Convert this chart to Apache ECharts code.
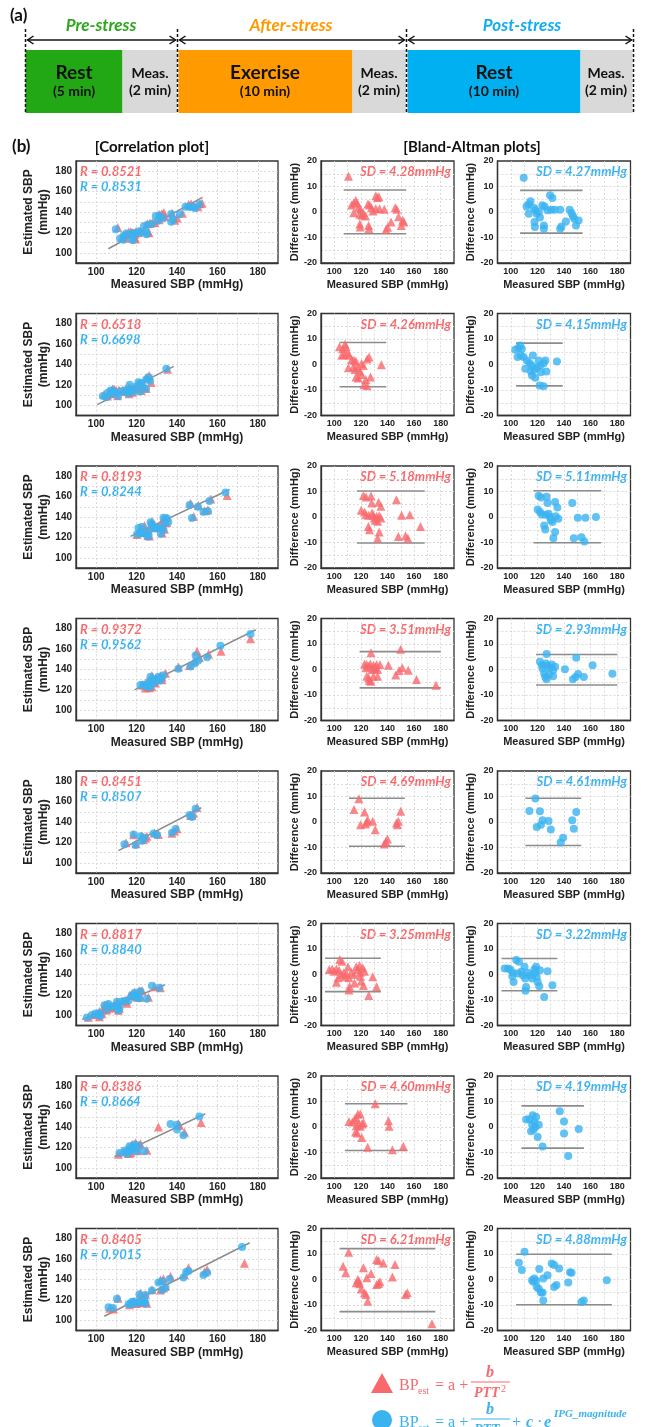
<!DOCTYPE html>
<html><head><meta charset="utf-8">
<script src="https://cdn.jsdelivr.net/npm/echarts@6/dist/echarts.min.js"></script>
<style>html,body{margin:0;padding:0;background:#fff}#c{width:645px;height:1427px}</style>
</head><body><div id="c"></div><script>
// ---------- DATA ----------
const rRed  = ['0.8521','0.6518','0.8193','0.9372','0.8451','0.8817','0.8386','0.8405'];
const rBlue = ['0.8531','0.6698','0.8244','0.9562','0.8507','0.8840','0.8664','0.9015'];
const sdRed  = ['4.28','4.26','5.18','3.51','4.69','3.25','4.60','6.21'];
const sdBlue = ['4.27','4.15','5.11','2.93','4.61','3.22','4.19','4.88'];
// limits of agreement [upper, lower]
const loaRed  = [[8.6,-8.5],[8.6,-8.7],[10.2,-10.2],[7.0,-7.2],[9.3,-9.5],[6.4,-6.7],[9.1,-9.2],[12.1,-12.6]];
const loaBlue = [[8.5,-8.3],[8.4,-8.4],[10.3,-10.1],[5.9,-6.1],[9.3,-9.2],[6.3,-6.4],[8.3,-8.3],[9.9,-9.9]];
// x-extent of the limit lines
const loaXRange = [[107,154],[104,139],[117,168],[119,180],[111,153],[93,135],[108,155],[104,176]];
// regression line endpoints in correlation plots
const fitLines = [[[106,104],[152.6,154.3]],[[100.5,100.6],[138.4,138.2]],[[117,121],[166,167]],[[119,120],[179,179]],
                  [[111,112],[152,154]],[[93,96],[134,130]],[[109,111],[154,153]],[[104,104],[176,176]]];
// Bland-Altman points: [measured SBP, difference]
const row1Red = [[110.7,14.0],[113.0,2.7],[114.6,3.5],[116.1,4.5],[117.1,3.5],[114.6,-0.3],[118.1,1.7],[119.7,1.1],[119.2,-0.9],[120.9,-1.3],[121.7,-0.3],[119.2,-4.7],[119.4,-5.9],[123.5,-1.6],[125.3,3.1],[126.6,2.7],[125.8,-5.3],[126.1,-6.5],[127.9,1.7],[129.1,0.4],[131.2,1.3],[131.2,6.4],[132.5,5.7],[133.5,6.0],[134.0,1.3],[137.6,1.1],[138.9,-6.9],[140.1,-6.0],[142.7,-3.9],[145.8,1.7],[147.0,1.1],[148.3,-1.9],[150.4,-5.3],[151.4,-3.2],[152.4,-3.9]];
const row1Blue = [[109.7,13.4],[111.8,2.2],[113.5,3.0],[114.8,4.2],[113.5,-0.7],[117.3,1.7],[118.6,0.7],[119.4,-0.7],[117.8,-3.9],[118.1,-5.9],[121.1,0],[121.9,-2.2],[123.7,2.6],[125.4,2.2],[124.9,-5.3],[124.9,-6.6],[127.5,0.7],[129.5,6.6],[131.3,5.5],[130.5,0.9],[133.0,0.9],[137.1,0.9],[137.1,-6.6],[138.1,-5.7],[141.4,-3.7],[144.2,0.9],[145.7,-0.4],[146.7,-1.7],[147.7,-2.6],[149.0,-5.3],[151.0,-3.3]];
const row2Red = [[103.9,7.0],[106.4,6.2],[108.1,7.9],[108.9,7.0],[105.6,3.6],[107.4,3.9],[109.9,4.6],[111.3,3.6],[113.1,2.0],[114.8,1.7],[110.6,-1.3],[114.4,-0.9],[116.3,1.3],[115.6,-2.0],[116.3,-4.9],[118.0,-5.3],[117.3,-1.3],[119.3,-2.6],[120.5,0.4],[121.8,-0.4],[120.5,-3.9],[123.7,-5.9],[124.7,2.2],[126.2,2.9],[127.2,-4.9],[122.3,-7.9],[124.7,-8.3],[135.4,-0.1]];
const row2Blue = [[103.3,5.8],[105.8,6.5],[107.1,7.5],[108.3,6.1],[105.1,2.9],[107.6,3.5],[109.6,2.9],[110.9,-1.7],[112.1,1.6],[114.1,0.5],[115.9,-0.4],[116.6,3.5],[115.1,-2.6],[115.9,-4.3],[118.4,-5.2],[117.6,-2.1],[119.6,-1.3],[120.9,1.6],[122.2,-0.4],[122.7,-3.0],[124.7,0.5],[126.0,1.6],[126.7,-2.7],[121.7,-8.2],[124.7,-8.5],[134.7,1.2]];
const row3Red = [[121.9,8.4],[123.9,7.8],[127.6,8.2],[128.1,5.5],[120.2,2.6],[122.7,2.0],[123.9,0.9],[125.9,0.7],[128.4,1.6],[129.4,0.7],[130.1,-0.4],[130.8,-1.3],[131.8,0.3],[132.6,-1.7],[133.8,0.5],[135.0,-0.4],[133.3,5.8],[135.0,4.2],[125.6,-3.7],[126.4,-5.0],[133.8,-5.9],[132.6,-8.3],[146.7,6.8],[148.2,-7.6],[150.6,0.7],[153.6,-7.4],[155.3,-8.3],[156.8,0.9],[164.8,-3.7]];
const row3Blue = [[120.9,8.3],[122.7,7.6],[126.9,7.9],[127.6,5.5],[120.2,2.9],[122.0,2.0],[123.4,0.9],[126.4,0.9],[128.4,1.3],[129.4,0],[130.1,-1.3],[131.3,-2.0],[133.3,5.9],[135.0,3.7],[133.8,0.3],[135.7,-0.7],[125.1,-3.3],[125.9,-4.9],[133.3,-5.9],[132.0,-8.3],[146.2,5.5],[147.4,-8.3],[150.4,-0.3],[153.1,-7.9],[155.3,-9.6],[156.1,-0.3],[164.0,0]];
const row4Red = [[127.6,6.6],[149.9,7.9],[122.7,2.2],[123.9,0.7],[124.4,2.0],[125.9,1.3],[127.1,2.2],[128.4,0],[129.4,1.7],[130.1,0.4],[130.8,0.9],[131.8,2.0],[132.6,0],[134.3,2.0],[124.4,-2.6],[125.9,-3.3],[126.4,-4.3],[127.6,-4.6],[129.4,-2.6],[132.6,-2.6],[140.7,1.7],[146.2,-2.2],[148.7,-0.4],[151.1,0.7],[155.6,-0.3],[161.8,-3.9],[176.4,-6.2]];
const row4Blue = [[126.9,6.1],[149.2,4.6],[121.9,3.0],[123.4,1.7],[123.9,0.4],[126.4,2.4],[127.6,1.4],[129.4,0.7],[130.8,2.0],[131.8,-0.3],[133.3,1.1],[125.1,-1.6],[125.9,-2.9],[126.9,-3.8],[128.9,-2.0],[131.8,-2.6],[140.7,0.1],[146.7,-3.8],[148.7,-2.9],[150.6,-1.8],[154.9,-2.9],[161.5,1.7],[176.4,-1.7]];
const row5Red = [[118.5,9.1],[114.8,4.9],[122.7,3.9],[119.7,-1.1],[123.4,-0.8],[125.1,0.9],[124.4,0],[128.9,0.3],[130.8,-3.0],[140.0,-6.7],[138.8,-7.6],[137.5,-8.6],[146.7,-0.4],[148.2,0.3],[147.4,-1.1],[149.9,4.2]];
const row5Blue = [[118.5,9.2],[114.0,4.3],[121.9,4.2],[119.5,-2.0],[122.7,-1.1],[123.9,0.7],[128.4,0.4],[130.1,-2.9],[139.3,-6.2],[137.5,-8.0],[146.2,0.7],[147.4,-2.6],[149.2,3.9]];
const row6Red = [[96.2,2.0],[98.4,2.2],[99.9,1.3],[101.6,2.2],[103.6,1.7],[104.1,5.9],[105.8,5.2],[102.9,-1.3],[101.6,-3.0],[105.3,0],[107.1,0.7],[107.8,-0.9],[109.1,0.3],[110.3,3.0],[111.0,-1.3],[111.5,-4.6],[111.0,-6.1],[112.8,0.9],[114.8,0],[115.2,-3.3],[116.5,3.0],[117.7,2.0],[119.0,3.5],[119.5,0.9],[119.7,-0.7],[120.2,-2.6],[121.4,2.6],[122.7,1.3],[121.9,-4.3],[125.9,-8.2],[128.9,-0.9],[131.8,-4.8]];
const row6Blue = [[95.4,2.4],[97.9,2.4],[99.7,2.0],[101.6,0.7],[104.1,5.7],[106.1,5.0],[101.1,-0.7],[102.1,-2.9],[105.3,0.4],[107.8,1.1],[109.1,-0.3],[110.3,3.0],[110.8,-1.6],[111.5,-4.9],[111.0,-6.4],[112.8,0.7],[114.5,-0.3],[116.0,-1.6],[117.7,2.0],[119.0,3.0],[118.5,0.7],[119.5,-0.9],[120.2,-2.9],[121.9,1.7],[121.4,-4.6],[125.1,-8.8],[127.6,1.3],[131.3,-4.2]];
const row7Red = [[130.8,9.1],[111.0,2.2],[113.5,2.0],[115.2,2.9],[116.5,3.6],[117.7,5.1],[119.5,5.1],[118.5,1.2],[116.5,0.5],[119.5,0.3],[121.0,1.2],[121.9,1.8],[116.0,-2.0],[117.2,-2.4],[120.7,-4.1],[125.1,-7.9],[140.7,2.5],[141.2,0.3],[143.7,-8.9],[151.9,-7.5]];
const row7Blue = [[136.8,6.2],[111.5,2.9],[114.0,3.0],[116.5,4.6],[119.0,3.9],[117.7,2.0],[116.0,0.9],[118.5,0],[121.0,0.9],[115.2,-1.7],[117.0,-1.1],[120.2,-3.9],[123.9,-7.6],[140.0,2.2],[140.0,-2.5],[151.1,-0.8],[143.2,-11.4]];
const row8Red = [[110.8,10.7],[106.6,5.2],[108.6,2.6],[121.9,4.6],[131.8,7.8],[133.3,7.5],[136.8,6.5],[145.7,5.9],[127.6,2.4],[124.4,0.7],[143.7,1.0],[117.7,0],[118.5,-0.7],[116.5,-1.3],[119.0,-1.7],[133.3,-1.6],[134.3,-0.9],[131.8,-2.0],[120.2,-3.7],[122.7,-5.2],[123.9,-5.9],[125.1,-8.5],[153.6,-5.9],[154.9,-5.2],[173.4,-17.4]];
const row8Blue = [[110.3,10.9],[106.1,6.6],[108.3,3.7],[121.4,4.1],[130.8,6.3],[132.6,5.7],[136.3,4.3],[144.5,2.8],[145.7,2.6],[127.6,1.7],[124.4,0.4],[116.0,-0.3],[117.7,0.4],[119.0,-0.5],[117.0,-0.9],[132.6,-2.9],[134.3,-2.2],[143.2,-1.2],[119.5,-2.9],[121.0,-3.6],[122.7,-5.1],[123.9,-5.1],[124.4,-8.2],[153.1,-8.8],[154.9,-8.2],[172.2,-0.3]];
const redRows  = [row1Red,row2Red,row3Red,row4Red,row5Red,row6Red,row7Red,row8Red];
const blueRows = [row1Blue,row2Blue,row3Blue,row4Blue,row5Blue,row6Blue,row7Blue,row8Blue];
const xTicks = [100,120,140,160,180];
const corrYTicks = [100,120,140,160,180];

// ---------- STYLE / LAYOUT ----------
const RED='#F7696D', BLUE='#3AB3F0', GRAYLINE='#8c8c8c';
const ROW0=161, PITCH=152.5, H=102;
const AX='Liberation Sans';
const grids=[], xAxes=[], yAxes=[], series=[], els=[];

function splitStyle(){return {show:true, showMinLine:false, showMaxLine:false, lineStyle:{color:'#d2d2d2', type:[2,2], width:0.8}};}
function addPanel(left,width,top,kind){
  const g = grids.length;
  grids.push({left:left, top:top, width:width, height:H, show:true, borderColor:'#333', borderWidth:1.3, backgroundColor:'rgba(0,0,0,0)'});
  const fs = kind==='corr'?10:9;
  xAxes.push({gridIndex:g, type:'value', min:90, max:190, interval:10,
    axisLine:{show:true, onZero:false, lineStyle:{color:'#333', width:1.3}}, axisTick:{show:false},
    splitLine:splitStyle(),
    axisLabel:{fontFamily:AX, fontWeight:'bold', fontSize:fs, color:'#222', margin:4,
      formatter:v=> xTicks.indexOf(v)>=0 ? String(v) : ''},
    name:'Measured SBP (mmHg)', nameLocation:'middle', nameGap:16,
    nameTextStyle:{fontFamily:AX, fontWeight:'bold', fontSize:kind==='corr'?12:11, color:'#222'}});
  if(kind==='corr'){
    yAxes.push({gridIndex:g, type:'value', min:90, max:190, interval:10,
      axisLine:{show:true, onZero:false, lineStyle:{color:'#333', width:1.3}}, axisTick:{show:false},
      splitLine:splitStyle(),
      axisLabel:{fontFamily:AX, fontWeight:'bold', fontSize:10, color:'#222', margin:4,
        formatter:v=> corrYTicks.indexOf(v)>=0 ? String(v) : ''},
      name:'Estimated SBP\n(mmHg)', nameLocation:'middle', nameGap:21,
      nameTextStyle:{fontFamily:AX, fontWeight:'bold', fontSize:12, color:'#222', lineHeight:15}});
  } else {
    yAxes.push({gridIndex:g, type:'value', min:-20, max:20, interval:10,
      axisLine:{show:true, onZero:false, lineStyle:{color:'#333', width:1.3}}, axisTick:{show:false},
      splitLine:splitStyle(),
      minorTick:{show:false, splitNumber:2},
      minorSplitLine:{show:true, lineStyle:{color:'#d2d2d2', type:[2,2], width:0.8}},
      axisLabel:{fontFamily:AX, fontWeight:'bold', fontSize:9, color:'#222', margin:4, showMinLabel:true, showMaxLabel:true},
      name:'Difference (mmHg)', nameLocation:'middle', nameGap:19,
      nameTextStyle:{fontFamily:AX, fontWeight:'bold', fontSize:11, color:'#222'}});
  }
  return g;
}
function txt(x,y,text,font,fill,align,va){
  els.push({type:'text', x:x, y:y, silent:true, style:{text:text, font:font, fill:fill||'#111', align:align||'center', verticalAlign:va||'middle'}});
}
function ln(x1,y1,x2,y2,stroke,w,dash){
  els.push({type:'line', silent:true, shape:{x1:x1,y1:y1,x2:x2,y2:y2}, style:{stroke:stroke||'#000', lineWidth:w||1.5, lineDash:dash||null}});
}
function rect(x,y,w,h,fill){ els.push({type:'rect', silent:true, shape:{x:x,y:y,width:w,height:h}, style:{fill:fill}}); }
function poly(points,stroke,w){ els.push({type:'polyline', silent:true, shape:{points:points}, style:{stroke:stroke, lineWidth:w, fill:null}}); }

for(let i=0;i<8;i++){
  const top = ROW0 + PITCH*i;
  const red = redRows[i], blue = blueRows[i];
  // correlation plot
  const g0 = addPanel(76,202,top,'corr');
  series.push({type:'line', xAxisIndex:g0, yAxisIndex:g0, data:fitLines[i], symbol:'none', silent:true, lineStyle:{color:GRAYLINE, width:1.5}, z:2});
  series.push({type:'scatter', xAxisIndex:g0, yAxisIndex:g0, data:red.map(p=>[p[0], p[0]+p[1]]), symbol:'triangle', symbolSize:9, silent:true, itemStyle:{color:RED}, z:3});
  series.push({type:'scatter', xAxisIndex:g0, yAxisIndex:g0, data:blue.map(p=>[p[0], p[0]+p[1]]), symbol:'circle', symbolSize:8, silent:true, itemStyle:{color:BLUE}, z:4});
  txt(80, top+11, 'R = '+rRed[i], 'italic bold 13px Lato', RED, 'left');
  txt(80, top+26, 'R = '+rBlue[i], 'italic bold 13px Lato', BLUE, 'left');
  // Bland-Altman red
  const xr = loaXRange[i];
  const g1 = addPanel(321,133,top,'ba');
  series.push({type:'line', xAxisIndex:g1, yAxisIndex:g1, data:[[xr[0],loaRed[i][0]],[xr[1],loaRed[i][0]]], symbol:'none', silent:true, lineStyle:{color:GRAYLINE, width:1.6}, z:2});
  series.push({type:'line', xAxisIndex:g1, yAxisIndex:g1, data:[[xr[0],loaRed[i][1]],[xr[1],loaRed[i][1]]], symbol:'none', silent:true, lineStyle:{color:GRAYLINE, width:1.6}, z:2});
  series.push({type:'scatter', xAxisIndex:g1, yAxisIndex:g1, data:red, symbol:'triangle', symbolSize:9, silent:true, itemStyle:{color:RED}, z:3});
  txt(451, top+11, 'SD = '+sdRed[i]+'mmHg', 'italic bold 13px Lato', RED, 'right');
  // Bland-Altman blue
  const g2 = addPanel(497.5,133,top,'ba');
  series.push({type:'line', xAxisIndex:g2, yAxisIndex:g2, data:[[xr[0],loaBlue[i][0]],[xr[1],loaBlue[i][0]]], symbol:'none', silent:true, lineStyle:{color:GRAYLINE, width:1.6}, z:2});
  series.push({type:'line', xAxisIndex:g2, yAxisIndex:g2, data:[[xr[0],loaBlue[i][1]],[xr[1],loaBlue[i][1]]], symbol:'none', silent:true, lineStyle:{color:GRAYLINE, width:1.6}, z:2});
  series.push({type:'scatter', xAxisIndex:g2, yAxisIndex:g2, data:blue, symbol:'circle', symbolSize:8, silent:true, itemStyle:{color:BLUE}, z:3});
  txt(627, top+11, 'SD = '+sdBlue[i]+'mmHg', 'italic bold 13px Lato', BLUE, 'right');
}

// ---------- panel (a) ----------
txt(10,16,'(a)','bold 17px Lato','#111','left');
txt(101,26,'Pre-stress','italic bold 17px Lato','#2DA81E');
txt(291,26,'After-stress','italic bold 17px Lato','#FF9900');
txt(522,26,'Post-stress','italic bold 17px Lato','#12ADEE');
rect(25.5,50,97,63,'#22A815');
rect(122.5,50,54.5,63,'#D9D9D9');
rect(178.5,50,174,63,'#FF9A00');
rect(352.5,50,53.5,63,'#D9D9D9');
rect(407.5,50,173,63,'#00B0F0');
rect(580.5,50,52,63,'#D9D9D9');
[25.5,177.5,406.5,633.5].forEach(x=>ln(x,29,x,113,'#111',1.5,[3,2]));
[[27.5,175.5],[408.5,631.5],[179.5,404.5]].forEach(a=>{
  ln(a[0],40,a[1],40,'#111',1.5);
  poly([[a[0]+6,36],[a[0],40],[a[0]+6,44]],'#111',1.5);
  poly([[a[1]-6,36],[a[1],40],[a[1]-6,44]],'#111',1.5);
});
txt(74,73,'Rest','bold 19px Lato'); txt(74,91,'(5 min)','bold 14px Lato');
txt(150,73,'Meas.','bold 14px Lato'); txt(150,90,'(2 min)','bold 14px Lato');
txt(265,73,'Exercise','bold 19px Lato'); txt(265,91,'(10 min)','bold 14px Lato');
txt(379,73,'Meas.','bold 14px Lato'); txt(379,90,'(2 min)','bold 14px Lato');
txt(494,73,'Rest','bold 19px Lato'); txt(494,91,'(10 min)','bold 14px Lato');
txt(606,73,'Meas.','bold 14px Lato'); txt(606,90,'(2 min)','bold 14px Lato');

// ---------- panel (b) headers ----------
txt(12,147,'(b)','bold 17px Lato','#111','left');
txt(152,147,'[Correlation plot]','bold 15px Lato');
txt(472,147,'[Bland-Altman plots]','bold 15px Lato');

// ---------- formula legend ----------
const SERIF='Liberation Serif';
els.push({type:'polygon', silent:true, shape:{points:[[371,1393],[382,1373],[393,1393]]}, style:{fill:RED}});
txt(399,1386,'BP','16px '+SERIF,RED,'left');
txt(418,1391,'est','10px '+SERIF,RED,'left');
txt(435,1386,'= a +','16px '+SERIF,RED,'left');
txt(490,1373,'b','italic bold 16px '+SERIF,RED);
ln(471,1382,510,1382,RED,1);
txt(474,1393,'PTT','italic bold 14px '+SERIF,RED,'left');
txt(501,1389,'2','10px '+SERIF,RED,'left');

els.push({type:'circle', silent:true, shape:{cx:382,cy:1420,r:10}, style:{fill:BLUE}});
txt(399,1423,'BP','16px '+SERIF,BLUE,'left');
txt(418,1428,'est','10px '+SERIF,BLUE,'left');
txt(435,1423,'= a +','16px '+SERIF,BLUE,'left');
txt(490,1410,'b','italic bold 16px '+SERIF,BLUE);
ln(471,1419,510,1419,BLUE,1);
txt(474,1430,'PTT','italic bold 14px '+SERIF,BLUE,'left');
txt(512,1423,'+','16px '+SERIF,BLUE,'left');
txt(526,1423,'c','italic bold 16px '+SERIF,BLUE,'left');
txt(537,1423,'·','16px '+SERIF,BLUE,'left');
txt(544,1423,'e','italic bold 16px '+SERIF,BLUE,'left');
txt(554,1414,'IPG_magnitude','italic bold 11px '+SERIF,BLUE,'left');

const chart = echarts.init(document.getElementById('c'), null, {renderer:'canvas'});
chart.setOption({
  animation:false, backgroundColor:'#fff',
  grid:grids, xAxis:xAxes, yAxis:yAxes, series:series,
  graphic:{elements:els}
});
</script></body></html>
